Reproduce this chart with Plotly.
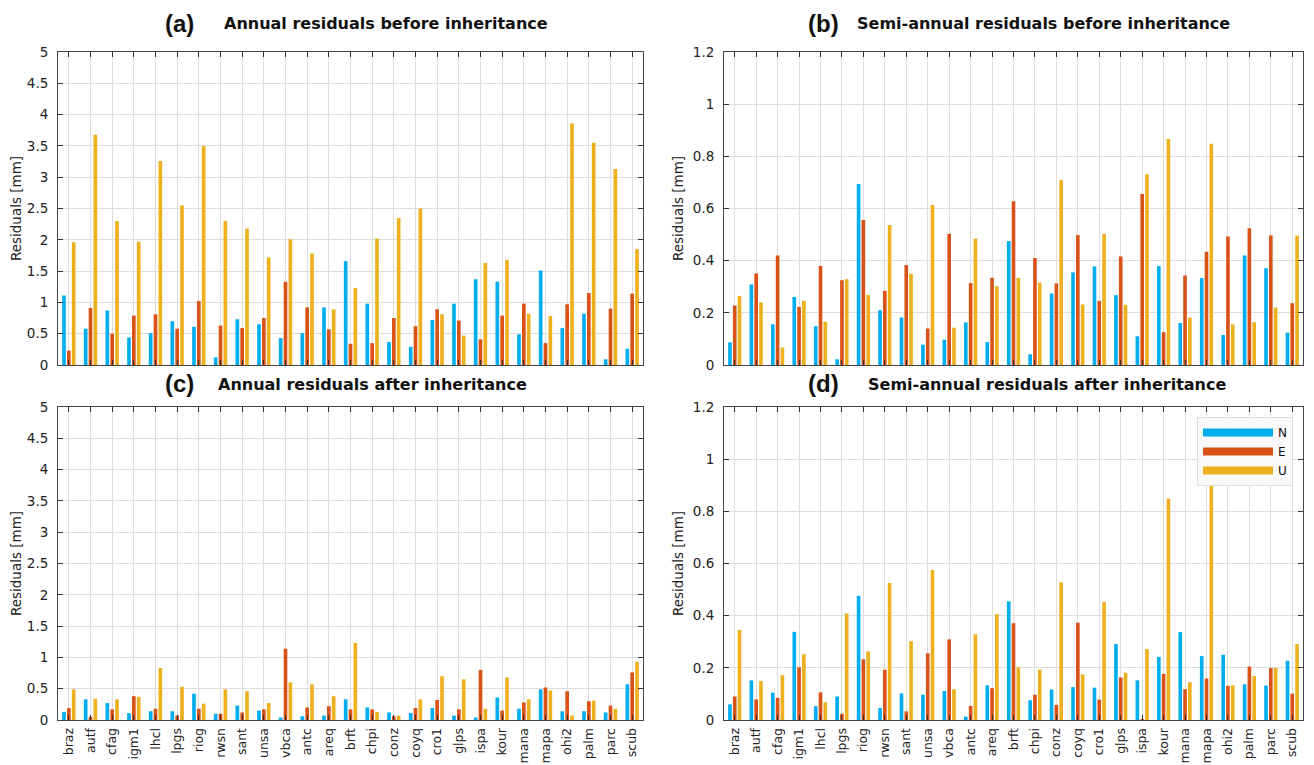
import plotly.graph_objects as go

stations = ["braz", "autf", "cfag", "igm1", "lhcl", "lpgs", "riog", "rwsn", "sant", "unsa",
            "vbca", "antc", "areq", "brft", "chpi", "conz", "coyq", "cro1", "glps", "ispa",
            "kour", "mana", "mapa", "ohi2", "palm", "parc", "scub"]

# (a) Annual residuals before inheritance
a_N = [1.11, 0.58, 0.87, 0.44, 0.51, 0.70, 0.61, 0.12, 0.73, 0.65, 0.43, 0.51, 0.92, 1.66,
       0.98, 0.37, 0.29, 0.72, 0.98, 1.37, 1.33, 0.49, 1.51, 0.59, 0.82, 0.09, 0.26]
a_E = [0.23, 0.91, 0.50, 0.79, 0.81, 0.58, 1.02, 0.63, 0.59, 0.75, 1.33, 0.92, 0.57, 0.34,
       0.35, 0.75, 0.62, 0.89, 0.71, 0.41, 0.79, 0.98, 0.35, 0.97, 1.15, 0.90, 1.14]
a_U = [1.96, 3.68, 2.30, 1.97, 3.26, 2.55, 3.50, 2.30, 2.18, 1.72, 2.01, 1.78, 0.89, 1.23,
       2.02, 2.35, 2.50, 0.81, 0.47, 1.63, 1.68, 0.82, 0.78, 3.86, 3.55, 3.13, 1.85]

# (b) Semi-annual residuals before inheritance
b_N = [0.087, 0.309, 0.156, 0.261, 0.149, 0.022, 0.694, 0.210, 0.182, 0.078, 0.097, 0.163,
       0.088, 0.475, 0.041, 0.274, 0.355, 0.378, 0.268, 0.110, 0.379, 0.161, 0.333, 0.115,
       0.420, 0.371, 0.124]
b_E = [0.228, 0.351, 0.420, 0.223, 0.380, 0.325, 0.556, 0.284, 0.383, 0.140, 0.503, 0.314,
       0.334, 0.628, 0.410, 0.313, 0.498, 0.246, 0.416, 0.656, 0.126, 0.343, 0.434, 0.493,
       0.524, 0.497, 0.237]
b_U = [0.265, 0.240, 0.067, 0.246, 0.166, 0.329, 0.269, 0.537, 0.350, 0.613, 0.143, 0.485,
       0.302, 0.334, 0.316, 0.710, 0.232, 0.502, 0.231, 0.731, 0.866, 0.182, 0.848, 0.156,
       0.164, 0.220, 0.496]

# (c) Annual residuals after inheritance
c_N = [0.13, 0.33, 0.27, 0.11, 0.14, 0.14, 0.42, 0.10, 0.23, 0.15, 0.04, 0.06, 0.07, 0.33,
       0.20, 0.12, 0.11, 0.19, 0.07, 0.04, 0.36, 0.18, 0.49, 0.14, 0.14, 0.12, 0.57]
c_E = [0.19, 0.05, 0.17, 0.38, 0.18, 0.07, 0.18, 0.10, 0.12, 0.17, 1.14, 0.20, 0.22, 0.17,
       0.17, 0.06, 0.19, 0.32, 0.17, 0.80, 0.15, 0.28, 0.52, 0.46, 0.30, 0.23, 0.76]
c_U = [0.49, 0.34, 0.33, 0.37, 0.83, 0.53, 0.26, 0.49, 0.46, 0.27, 0.60, 0.57, 0.38, 1.23,
       0.13, 0.07, 0.33, 0.70, 0.65, 0.18, 0.68, 0.33, 0.47, 0.07, 0.31, 0.18, 0.93]

# (d) Semi-annual residuals after inheritance
d_N = [0.060, 0.152, 0.105, 0.338, 0.053, 0.090, 0.476, 0.046, 0.102, 0.097, 0.111, 0.013,
       0.133, 0.455, 0.076, 0.117, 0.126, 0.124, 0.291, 0.152, 0.242, 0.337, 0.245, 0.250,
       0.137, 0.132, 0.227]
d_E = [0.090, 0.079, 0.085, 0.202, 0.106, 0.024, 0.233, 0.193, 0.033, 0.256, 0.309, 0.054,
       0.122, 0.371, 0.097, 0.058, 0.373, 0.078, 0.163, 0.003, 0.177, 0.118, 0.159, 0.131,
       0.205, 0.199, 0.101]
d_U = [0.345, 0.149, 0.172, 0.252, 0.068, 0.409, 0.263, 0.525, 0.302, 0.575, 0.118, 0.329,
       0.406, 0.202, 0.193, 0.528, 0.175, 0.452, 0.181, 0.272, 0.849, 0.145, 0.913, 0.133,
       0.168, 0.200, 0.291]

components = ["N", "E", "U"]
colors = {"N": "#00AEEF", "E": "#D95319", "U": "#EDB120"}

panels = [
    ("a", "Annual residuals before inheritance", [a_N, a_E, a_U], 5, 0.5),
    ("b", "Semi-annual residuals before inheritance", [b_N, b_E, b_U], 1.2, 0.2),
    ("c", "Annual residuals after inheritance", [c_N, c_E, c_U], 5, 0.5),
    ("d", "Semi-annual residuals after inheritance", [d_N, d_E, d_U], 1.2, 0.2),
]

# the page body adds an 8 px margin, so the figure is drawn 8 px smaller and
# all page-pixel positions below are converted with OFF
OFF = 8
W, H = 1314 - OFF, 765 - OFF


def px(x):
    return (x - OFF) / W


def py(y):
    return 1 - (y - OFF) / H


# plot-area boxes in page pixels: (left, right, top, bottom)
boxes = {
    "a": (58, 643, 52, 365),
    "b": (724, 1303, 52, 365),
    "c": (58, 643, 407, 720),
    "d": (724, 1303, 407, 720),
}
title_pos = {  # (label left x, text left x, center y) in page pixels
    "a": (163, 222, 23),
    "b": (806, 855, 23),
    "c": (163, 216, 383),
    "d": (806, 866, 383),
}

fig = go.Figure()
FONT = "DejaVu Sans, sans-serif"
AXFS = 13.5
annotations = []

for i, (key, title, series, ymax, dtick) in enumerate(panels):
    n = i + 1
    xa = "x" if n == 1 else f"x{n}"
    ya = "y" if n == 1 else f"y{n}"
    for comp, vals in zip(components, series):
        fig.add_trace(go.Bar(x=stations, y=vals, name=comp, marker_color=colors[comp],
                             marker_line_width=0, xaxis=xa, yaxis=ya, showlegend=False))
    l, r, t, b = boxes[key]
    bottom_row = key in ("c", "d")
    xkey = "xaxis" if n == 1 else f"xaxis{n}"
    ykey = "yaxis" if n == 1 else f"yaxis{n}"
    fig.layout[xkey] = dict(
        domain=[px(l), px(r)], anchor=ya, type="category", range=[-0.5, 26.5],
        automargin=False,
        showline=True, linecolor="#444444", linewidth=1, mirror="ticks",
        ticks="inside", ticklen=5, tickcolor="#333333",
        showgrid=True, gridcolor="#dddddd", gridwidth=1,
        showticklabels=bottom_row, tickangle=-90,
        tickfont=dict(family=FONT, size=12.5, color="#222222"),
        ticklabelstandoff=2,
    )
    fig.layout[ykey] = dict(
        domain=[py(b), py(t)], anchor=xa, range=[0, ymax], dtick=dtick,
        automargin=False,
        showline=True, linecolor="#444444", linewidth=1, mirror="ticks",
        ticks="inside", ticklen=5, tickcolor="#333333",
        showgrid=True, gridcolor="#dddddd", gridwidth=1, zeroline=False,
        tickfont=dict(family=FONT, size=AXFS, color="#222222"),
        ticklabelstandoff=6,
        title=dict(text="Residuals [mm]", font=dict(family=FONT, size=AXFS, color="#222222"),
                   standoff=6),
    )
    lx, tx, cy = title_pos[key]
    annotations.append(dict(text=f"<b>({key})</b>", x=px(lx), y=py(cy), xref="paper",
                            yref="paper", xanchor="left", yanchor="middle", showarrow=False,
                            font=dict(family="Liberation Sans, Arial, sans-serif", size=24,
                                      color="#111111")))
    annotations.append(dict(text=f"<b>{title}</b>", x=px(tx), y=py(cy + 1),
                            xref="paper", yref="paper", xanchor="left", yanchor="middle",
                            showarrow=False,
                            font=dict(family="DejaVu Sans, sans-serif", size=16, color="#111111")))

# legend entries (swatches) for panel (d)
for comp in components:
    fig.add_trace(go.Scatter(x=[None], y=[None], mode="lines", name=comp,
                             line=dict(color=colors[comp], width=8),
                             xaxis="x4", yaxis="y4", showlegend=True))

fig.update_layout(
    width=W, height=H,
    margin=dict(l=0, r=0, t=0, b=0, autoexpand=False),
    paper_bgcolor="white", plot_bgcolor="white",
    barmode="group", bargap=0.33, bargroupgap=0.24,
    annotations=annotations,
    legend=dict(x=px(1293), y=py(417), xanchor="right", yanchor="top",
                bgcolor="#f9f9f9", bordercolor="#dddddd", borderwidth=1,
                font=dict(family=FONT, size=12, color="#111111"),
                itemwidth=70, tracegroupgap=0),
    font=dict(family=FONT),
)

fig.write_html("out.html")
